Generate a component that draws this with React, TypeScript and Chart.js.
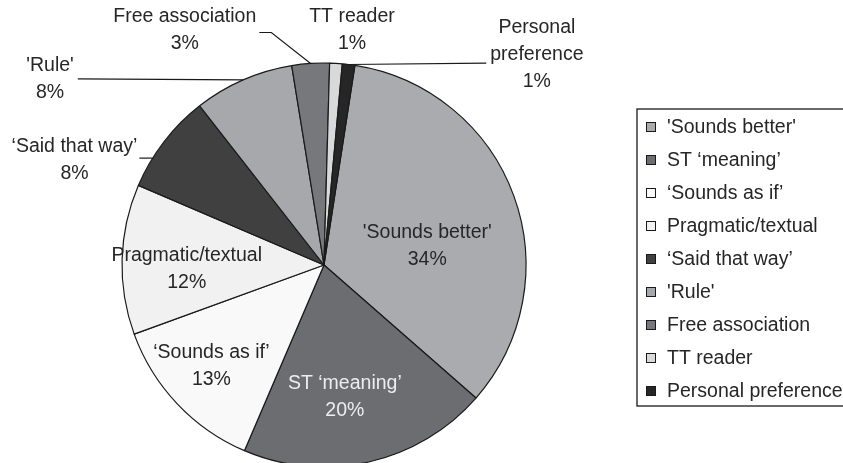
import React, { useEffect, useRef } from 'react';
import { Chart, registerables } from 'chart.js';

Chart.register(...registerables);

// ---- data ----
const categories: string[] = [
  "'Sounds better'",
  'ST \u2018meaning\u2019',
  '\u2018Sounds as if\u2019',
  'Pragmatic/textual',
  '\u2018Said that way\u2019',
  "'Rule'",
  'Free association',
  'TT reader',
  'Personal preference',
];
const values: number[] = [34, 20, 13, 12, 8, 8, 3, 1, 1];
const sliceColors: string[] = [
  '#a9abae',
  '#6c6d71',
  '#f9f9f9',
  '#f1f1f1',
  '#404040',
  '#a6a8ab',
  '#77787b',
  '#d8d9db',
  '#262626',
];
// label text lines on the pie (name part); percentage is appended from values
const labelNameLines: string[][] = [
  ["'Sounds better'"],
  ['ST \u2018meaning\u2019'],
  ['\u2018Sounds as if\u2019'],
  ['Pragmatic/textual'],
  ['\u2018Said that way\u2019'],
  ["'Rule'"],
  ['Free association'],
  ['TT reader'],
  ['Personal', 'preference'],
];

// ---- styling / placement (polar, relative to each slice) ----
const FONT_FAMILY = '"Liberation Sans", Arial, sans-serif';
const FONT_SIZE = 19.5;
const LINE_H = 27;
const TEXT_COLOR = '#262626';
type Leader = { side: 'left' | 'right'; gap: number; dy: number; elbow: number; edgeDa: number };
type Placement = { r: number; da: number; color?: string; leader?: Leader };
const placements: Placement[] = [
  { r: 0.52, da: 9.5 },
  { r: 0.66, da: 3.8, color: '#ededed' },
  { r: 0.75, da: 1.4 },
  { r: 0.68, da: -3.3 },
  { r: 1.34, da: -14.8, leader: { side: 'right', gap: 2, dy: -2, elbow: 0, edgeDa: -5.6 } },
  { r: 1.64, da: -32.2, leader: { side: 'right', gap: 4, dy: 0, elbow: 0, edgeDa: 0 } },
  { r: 1.35, da: -26.9, leader: { side: 'right', gap: 3, dy: 2, elbow: 12, edgeDa: 0 } },
  { r: 1.17, da: 3.4 },
  { r: 1.48, da: 38.4, leader: { side: 'left', gap: 4, dy: 8, elbow: 0, edgeDa: 0 } },
];

const LEGEND = { left: 637, top: 109, bottom: 406, firstY: 127, step: 33, box: 10, boxX: 646, textX: 667 };

const pieLabelsPlugin = {
  id: 'pieLabels',
  afterDatasetsDraw(chart: any) {
    const meta = chart.getDatasetMeta(0);
    const ctx: CanvasRenderingContext2D = chart.ctx;
    ctx.save();
    ctx.font = `${FONT_SIZE}px ${FONT_FAMILY}`;
    ctx.textAlign = 'center';
    ctx.textBaseline = 'middle';
    meta.data.forEach((arc: any, i: number) => {
      const { x, y, startAngle, endAngle, outerRadius } = arc.getProps(
        ['x', 'y', 'startAngle', 'endAngle', 'outerRadius'],
        true
      );
      const mid = (startAngle + endAngle) / 2;
      const p = placements[i];
      const a = mid + (p.da * Math.PI) / 180;
      const cx = x + Math.cos(a) * outerRadius * p.r;
      const cy = y + Math.sin(a) * outerRadius * p.r;
      const lines = [...labelNameLines[i], `${values[i]}%`];
      const top = cy - ((lines.length - 1) * LINE_H) / 2;
      ctx.fillStyle = p.color || TEXT_COLOR;
      let maxW = 0;
      lines.forEach((t, k) => {
        ctx.fillText(t, cx, top + k * LINE_H);
        maxW = Math.max(maxW, ctx.measureText(t).width);
      });
      if (p.leader) {
        const L = p.leader;
        // width of line closest to leader row
        const rowIdx = Math.round((cy + L.dy - top) / LINE_H);
        const rowText = lines[Math.max(0, Math.min(lines.length - 1, rowIdx))];
        const w = L.side === 'right' ? maxW : ctx.measureText(rowText).width;
        const sx = L.side === 'right' ? cx + w / 2 + L.gap : cx - w / 2 - L.gap;
        const sy = cy + L.dy;
        const ea = mid + (L.edgeDa * Math.PI) / 180;
        const ex = x + Math.cos(ea) * outerRadius;
        let ey = y + Math.sin(ea) * outerRadius;
        ctx.beginPath();
        ctx.strokeStyle = '#1a1a1a';
        ctx.lineWidth = 1.2;
        ctx.moveTo(sx, sy);
        if (L.elbow) {
          const dir = L.side === 'right' ? 1 : -1;
          ctx.lineTo(sx + dir * L.elbow, sy);
        }
        if (L.edgeDa !== 0) ey = sy;
        ctx.lineTo(ex, ey);
        ctx.stroke();
      }
    });
    ctx.restore();
  },
  afterDraw(chart: any) {
    const ctx: CanvasRenderingContext2D = chart.ctx;
    ctx.save();
    ctx.strokeStyle = '#1a1a1a';
    ctx.lineWidth = 1.3;
    ctx.strokeRect(LEGEND.left, LEGEND.top, chart.width - LEGEND.left + 10, LEGEND.bottom - LEGEND.top);
    ctx.font = `${FONT_SIZE}px ${FONT_FAMILY}`;
    ctx.textAlign = 'left';
    ctx.textBaseline = 'middle';
    categories.forEach((c, i) => {
      const yy = LEGEND.firstY + i * LEGEND.step;
      ctx.fillStyle = sliceColors[i];
      ctx.fillRect(LEGEND.boxX, yy - LEGEND.box / 2, LEGEND.box, LEGEND.box);
      ctx.lineWidth = 1;
      ctx.strokeRect(LEGEND.boxX + 0.5, yy - LEGEND.box / 2 + 0.5, LEGEND.box - 1, LEGEND.box - 1);
      ctx.fillStyle = TEXT_COLOR;
      ctx.fillText(c, LEGEND.textX, yy + 1);
    });
    ctx.restore();
  },
};

export default function App() {
  const ref = useRef<HTMLCanvasElement>(null);
  useEffect(() => {
    if (!ref.current) return;
    const chart = new Chart(ref.current, {
      type: 'pie',
      data: {
        labels: categories,
        datasets: [
          {
            data: values,
            backgroundColor: sliceColors,
            borderColor: '#1a1a1a',
            borderWidth: 1.2,
            radius: 202,
            clip: false,
          } as any,
        ],
      },
      options: {
        animation: false,
        responsive: true,
        maintainAspectRatio: false,
        rotation: 8.8,
        layout: { padding: { left: 0, right: 195, top: 67, bottom: 0 } },
        plugins: { legend: { display: false }, tooltip: { enabled: false } },
      },
      plugins: [pieLabelsPlugin],
    });
    return () => chart.destroy();
  }, []);
  return (
    <div style={{ position: 'fixed', left: 0, top: 0, width: 843, height: 463, overflow: 'hidden', background: '#fff' }}>
      <canvas ref={ref} />
    </div>
  );
}
